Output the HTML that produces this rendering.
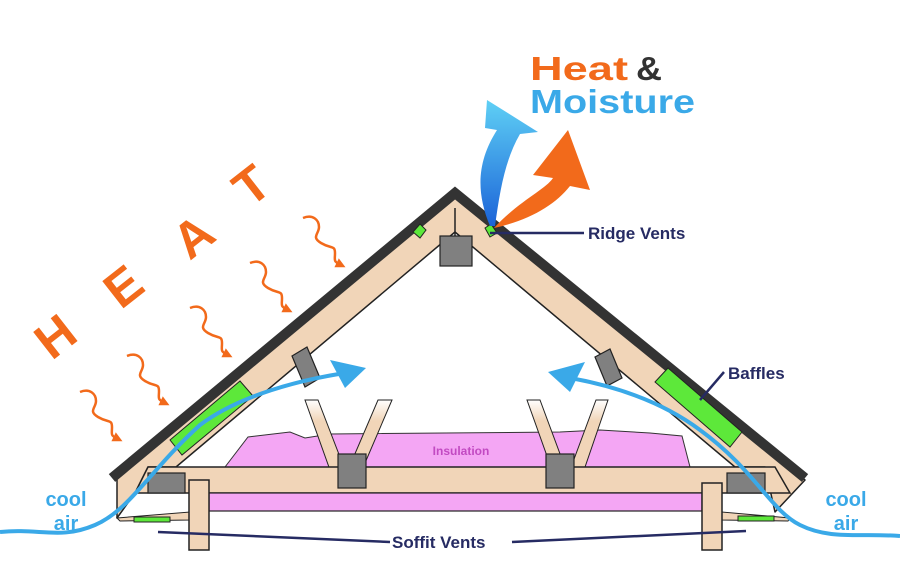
<!DOCTYPE html>
<html><head><meta charset="utf-8"><style>
html,body{margin:0;padding:0;background:#fff;}
svg{display:block;}
text{font-family:"Liberation Sans",sans-serif;font-weight:bold;}
</style></head><body>
<svg width="900" height="577" viewBox="0 0 900 577" xmlns="http://www.w3.org/2000/svg">
<defs>
<marker id="wa" markerWidth="4" markerHeight="4" refX="2" refY="2" orient="auto"><path d="M0,0 L4,2 L0,4 Z" fill="#f26a1b"/></marker>
<linearGradient id="fade" x1="0" y1="1" x2="0" y2="0"><stop offset="0.7" stop-color="#f1d5b8"/><stop offset="1" stop-color="#f1d5b8" stop-opacity="0"/></linearGradient>
<linearGradient id="bl" x1="0" y1="1" x2="0" y2="0"><stop offset="0" stop-color="#1b63d8"/><stop offset="1" stop-color="#5fd0f5"/></linearGradient>
</defs>

<!-- HEAT letters -->
<g fill="#f26a1b" font-size="50" text-anchor="middle">
<text transform="translate(66,350) rotate(-38)">H</text>
<text transform="translate(134,300) rotate(-38)">E</text>
<text transform="translate(204,250) rotate(-38)">A</text>
<text transform="translate(262,199) rotate(-38)">T</text>
</g>
<!-- wavy heat arrows -->
<g fill="none" stroke="#f26a1b" stroke-width="2.5" marker-end="url(#wa)">
<path d="M80,392 c10,-4 16,2 16,9 s-8,10 2,16 s14,2 14,10 s-2,8 6,12"/>
<path d="M127,356 c10,-4 16,2 16,9 s-8,10 2,16 s14,2 14,10 s-2,8 6,12"/>
<path d="M190,308 c10,-4 16,2 16,9 s-8,10 2,16 s14,2 14,10 s-2,8 6,12"/>
<path d="M250,263 c10,-4 16,2 16,9 s-8,10 2,16 s14,2 14,10 s-2,8 6,12"/>
<path d="M303,218 c10,-4 16,2 16,9 s-8,10 2,16 s14,2 14,10 s-2,8 6,12"/>
</g>

<!-- insulation upper -->
<path d="M225,467 L248,437 L290,432 L305,438 L330,434 L560,432 L600,430 L650,433 L682,436 L690,467 Z" fill="#f4a6f4" stroke="#333" stroke-width="1"/>
<text x="461" y="455" font-size="12" fill="#c24ac2" font-weight="normal" text-anchor="middle">Insulation</text>

<!-- V braces -->
<g fill="url(#fade)" stroke="#222" stroke-width="1">
<polygon points="330,470 345,470 318,400 305,400"/>
<polygon points="348,470 362,470 392,400 378,400"/>
<polygon points="552,470 566,470 540,400 527,400"/>
<polygon points="570,470 584,470 608,400 596,400"/>
</g>

<!-- roof rafters (tan band) -->
<path d="M455,195 L805,480 L775,512 L765,467 L735,467 L455,232 L176,467 L148,467 L135,493 L117,518 L117,478 Z" fill="#f1d5b8" stroke="#222" stroke-width="1.5" stroke-linejoin="round"/>
<line x1="455" y1="208" x2="455" y2="237" stroke="#222" stroke-width="1.5"/>
<!-- shingles -->
<path d="M112,478 L455,193 L805,478" fill="none" stroke="#333" stroke-width="10" stroke-linejoin="miter"/>

<!-- joist -->
<polygon points="148,467 775,467 790,493 135,493" fill="#f1d5b8" stroke="#222" stroke-width="1.5"/>
<!-- lower insulation -->
<rect x="209" y="493" width="493" height="18" fill="#f4a6f4" stroke="#222" stroke-width="1.2"/>
<!-- soffit bottoms -->
<polygon points="117,518 190,512 190,520 120,521" fill="#f1d5b8" stroke="#222" stroke-width="1"/>
<polygon points="790,518 722,512 722,520 788,521" fill="#f1d5b8" stroke="#222" stroke-width="1"/>
<!-- posts -->
<rect x="189" y="480" width="20" height="70" fill="#f1d5b8" stroke="#222" stroke-width="1.5"/>
<rect x="702" y="483" width="20" height="67" fill="#f1d5b8" stroke="#222" stroke-width="1.5"/>

<!-- green baffles -->
<g fill="#5de83a" stroke="#222" stroke-width="1">
<polygon points="170,440 240,381 253,396 182,455"/>
<polygon points="655,382 668,368 742,432 730,447"/>
<polygon points="413,232 420,224 426,230 420,238"/>
<polygon points="485,228 491,224 497,233 490,237"/>
<rect x="134" y="517" width="36" height="5"/>
<rect x="738" y="516" width="36" height="5"/>
</g>

<!-- gray blocks -->
<g fill="#808080" stroke="#222" stroke-width="1.2">
<rect x="440" y="236" width="32" height="30"/>
<rect x="148" y="473" width="37" height="20"/>
<rect x="727" y="473" width="38" height="20"/>
<rect x="338" y="454" width="28" height="34"/>
<rect x="546" y="454" width="28" height="34"/>
<polygon points="292,356 307,347 320,378 305,387"/>
<polygon points="595,357 610,349 622,378 607,386"/>
</g>

<!-- blue air flows -->
<g fill="none" stroke="#3aa9e8" stroke-width="4">
<path d="M0,532 C40,528 60,540 95,525 C130,510 150,470 200,425 C240,395 300,380 345,373"/>
<path d="M900,536 C860,533 830,540 800,525 C770,510 755,470 700,430 C660,400 610,385 570,378"/>
</g>
<polygon points="366,368 330,360 345,388" fill="#3aa9e8"/>
<polygon points="548,372 585,362 570,392" fill="#3aa9e8"/>

<!-- heat & moisture arrows -->
<path d="M490,226 C475,190 478,160 497,130 L485,128 L487,100 L538,132 L520,134 C505,160 500,190 495,226 Z" fill="url(#bl)"/>
<path d="M494,228 C520,200 545,190 553,178 L533,175 L568,130 L590,190 L570,186 C555,205 530,220 494,228 Z" fill="#f26a1b"/>
<text x="530" y="80" font-size="33" fill="#f26a1b" textLength="98" lengthAdjust="spacingAndGlyphs">Heat</text>
<text x="636" y="80" font-size="33" fill="#333" textLength="26" lengthAdjust="spacingAndGlyphs">&amp;</text>
<text x="530" y="113" font-size="33" fill="#3aa9e8" textLength="165" lengthAdjust="spacingAndGlyphs">Moisture</text>

<!-- labels -->
<g stroke="#262b63" stroke-width="2.5">
<line x1="490" y1="233" x2="584" y2="233"/>
<line x1="700" y1="400" x2="724" y2="372"/>
<line x1="158" y1="532" x2="390" y2="542"/>
<line x1="512" y1="542" x2="746" y2="531"/>
</g>
<g fill="#262b63" font-size="17">
<text x="588" y="239">Ridge Vents</text>
<text x="728" y="379">Baffles</text>
<text x="392" y="548">Soffit Vents</text>
</g>
<g fill="#3aa9e8" font-size="20" text-anchor="middle">
<text x="66" y="506">cool</text>
<text x="66" y="530">air</text>
<text x="846" y="506">cool</text>
<text x="846" y="530">air</text>
</g>
</svg>
</body></html>
